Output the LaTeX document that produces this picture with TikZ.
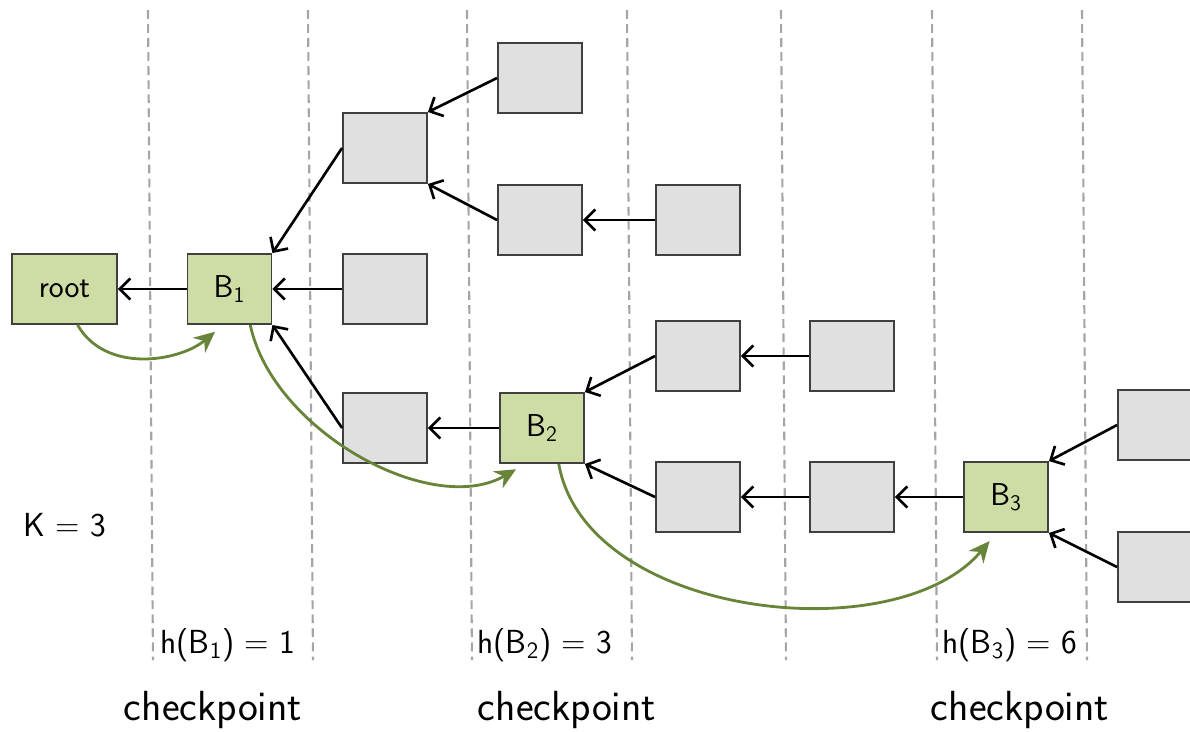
\documentclass[tikz,border=0pt]{standalone}
\usetikzlibrary{arrows.meta}
\definecolor{blkgreen}{RGB}{206,220,166}
\definecolor{blkgrey}{RGB}{224,224,224}
\definecolor{linkgreen}{RGB}{104,132,56}
\definecolor{sepgrey}{RGB}{165,165,165}
\tikzset{
  blk/.style={draw=black!75,line width=1.1pt,fill=blkgrey,minimum width=1.68cm,minimum height=1.4cm,inner sep=0pt},
  cblk/.style={blk,fill=blkgreen,font=\sffamily\fontsize{18}{18}\selectfont},
  ptr/.style={->,>={Straight Barb[length=6pt,width=12pt]},line width=1.5pt},
  jump/.style={-{Stealth[length=12pt,width=11pt]},linkgreen,line width=1.6pt},
  sep/.style={sepgrey,line width=1.2pt,dash pattern=on 5pt off 3pt},
  hlbl/.style={font=\sffamily\fontsize{19}{19}\selectfont,inner sep=1pt},
  cpt/.style={font=\sffamily\fontsize{24}{24}\selectfont,inner sep=1pt},
}
\begin{document}
\begin{tikzpicture}[x=0.02cm,y=-0.02cm]
  \clip (0,0) rectangle (1190,731);
  % separators:
  \foreach \x in {148,308,467,627,781,932,1082}
     \draw[sep] (\x,10) -- (\x+5,660);

  \node[cblk,minimum width=2.1cm] (root) at (64.5,289) {root};
  \node[cblk] (B1) at (229.5,289) {B\textsubscript{1}};
  \node[cblk] (B2) at (542,428) {B\textsubscript{2}};
  \node[cblk] (B3) at (1006,497) {B\textsubscript{3}};

  \node[blk] (a1) at (385,148) {};
  \node[blk] (a2) at (385,289) {};
  \node[blk] (a3) at (385,428) {};
  \node[blk] (b1) at (540,78) {};
  \node[blk] (b2) at (540,220) {};
  \node[blk] (c2) at (698,220) {};
  \node[blk] (c3) at (698,356) {};
  \node[blk] (c4) at (698,497) {};
  \node[blk] (d3) at (852,356) {};
  \node[blk] (d4) at (852,497) {};
  \node[blk] (e1) at (1160,425) {};
  \node[blk] (e2) at (1160,567) {};

  % parent links:
  \draw[ptr] (B1) -- (root);
  \draw[ptr] (a1.west) -- (B1.north east);
  \draw[ptr] (a2) -- (B1);
  \draw[ptr] (a3.west) -- (B1.south east);
  \draw[ptr] (b1.west) -- (a1.north east);
  \draw[ptr] (b2.west) -- (a1.south east);
  \draw[ptr] (c2) -- (b2);
  \draw[ptr] (B2) -- (a3);
  \draw[ptr] (c3.west) -- (B2.north east);
  \draw[ptr] (c4.west) -- (B2.south east);
  \draw[ptr] (d3) -- (c3);
  \draw[ptr] (d4) -- (c4);
  \draw[ptr] (B3) -- (d4);
  \draw[ptr] (e1.west) -- (B3.north east);
  \draw[ptr] (e2.west) -- (B3.south east);

  % checkpoint jumps:
  \draw[jump,shorten >=6pt] (root.-70) to[out=-60,in=-140] (B1.-100);
  \draw[jump,shorten >=6pt] (B1.-60) to[out=-78,in=-150,looseness=0.9] (B2.-115);
  \draw[jump,shorten >=6pt] (B2.-65) to[out=-80,in=-130,looseness=0.9] (B3.-105);

  \node[hlbl] (k) at (65,525) {K = 3};
  \node[hlbl] (h1) at (228,645) {h(B\textsubscript{1}) = 1};
  \node[hlbl] (h2) at (545,645) {h(B\textsubscript{2}) = 3};
  \node[hlbl] (h3) at (1010,645) {h(B\textsubscript{3}) = 6};
  \node[cpt] (cp1) at (213,710) {checkpoint};
  \node[cpt] (cp2) at (567,710) {checkpoint};
  \node[cpt] (cp3) at (1020,710) {checkpoint};
\end{tikzpicture}
\end{document}
